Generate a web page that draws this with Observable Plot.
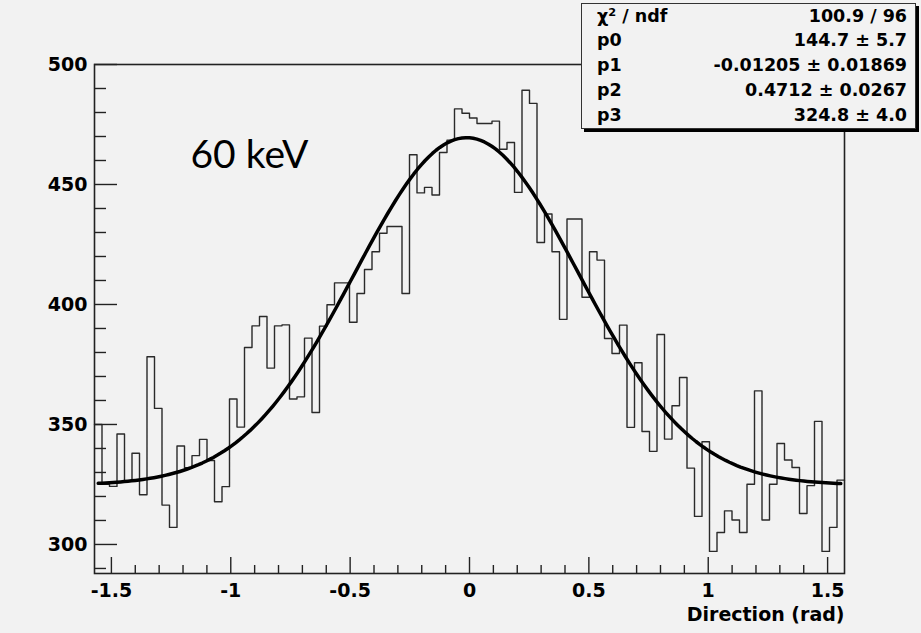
<!DOCTYPE html>
<html>
<head>
<meta charset="utf-8">
<script src="https://cdn.jsdelivr.net/npm/d3@7"></script>
<script src="https://cdn.jsdelivr.net/npm/@observablehq/plot@0.6"></script>
<style>
  html, body { margin: 0; padding: 0; background: #f2f2f2; }
  #wrap { position: relative; width: 921px; height: 633px; overflow: hidden; background: #f2f2f2; }
  #stats {
    position: absolute; left: 581px; top: 3px; width: 333px; height: 124px;
    background: #f2f2f2; border: 1.5px solid #333; box-shadow: 3px 3px 0 #000;
    font-family: "DejaVu Sans", sans-serif; font-weight: bold; font-size: 17.5px; color: #000;
    box-sizing: content-box;
  }
  #stats .row { display: flex; justify-content: space-between; align-items: center;
    height: 24.8px; padding: 0 8px 0 15px; line-height: 1; }
  #stats sup { font-size: 0.65em; vertical-align: 0.55em; line-height: 0; }
</style>
</head>
<body>
<div id="wrap"></div>
<script>
// ---- data ----
const binCounts = [
  350, 325.1, 324.2, 346, 326.5, 338, 320.7, 378.2, 356.7, 316.4,
  307.1, 341, 332, 337, 343.8, 335, 317.8, 324.1, 360.6, 348.9,
  382.1, 391.1, 395, 373.5, 391.1, 391.5, 360.6, 361.5, 386, 355,
  391, 399.9, 409, 409, 392.6, 404.6, 414.6, 422, 429.7, 432.5,
  432.5, 404.6, 462.4, 446.5, 448.8, 445.6, 463.3, 468.5, 481.5, 479.7,
  477.7, 475.4, 475.4, 476.4, 464.7, 467.5, 446.7, 489.3, 483.8, 425.8,
  437.7, 422, 393.8, 435.6, 435.6, 403, 422, 418.5, 385.8, 379.6,
  391.4, 348.8, 375.7, 347.1, 338.8, 387.5, 343.9, 357.8, 369.6, 331.8,
  311.7, 342.8, 297.1, 305, 314, 310.2, 305, 325.1, 364, 310.2,
  325.1, 342.1, 335.2, 332.1, 312.9, 324.5, 351.3, 297.1, 307.1, 326.8
];
const xRange = [-Math.PI / 2, Math.PI / 2];
const yRange = [287.9, 500];

const xMajorTicks = [-1.5, -1, -0.5, 0, 0.5, 1, 1.5];
const xMinorTicks = [-1.4,-1.3,-1.2,-1.1,-0.9,-0.8,-0.7,-0.6,-0.4,-0.3,-0.2,-0.1,0.1,0.2,0.3,0.4,0.6,0.7,0.8,0.9,1.1,1.2,1.3,1.4];
const yMajorTicks = [300, 350, 400, 450, 500];
const yMinorTicks = [290, 310, 320, 330, 340, 360, 370, 380, 390, 410, 420, 430, 440, 460, 470, 480, 490];

const xTitle = "Direction (rad)";
const energyLabel = "60 keV";

const statNames = ["p0", "p1", "p2", "p3"];
const paramValues = ["144.7", "-0.01205", "0.4712", "324.8"];
const paramErrors = ["5.7", "0.01869", "0.0267", "4.0"];
const chi2 = "100.9", ndf = "96";

// ---- derived tables ----
const nBins = binCounts.length;
const binW = (xRange[1] - xRange[0]) / nBins;
const histPts = binCounts.map((c, i) => ({x: xRange[0] + i * binW, y: c}));
histPts.push({x: xRange[1], y: binCounts[nBins - 1]});

const [p0, p1, p2, p3] = paramValues.map(Number);
const fitFn = x => p0 * Math.exp(-0.5 * ((x - p1) / p2) ** 2) + p3;
const fitX0 = xRange[0] + binW / 2, fitX1 = xRange[1] - binW / 2;
const fitPts = d3.range(0, 201).map(i => {
  const x = fitX0 + (fitX1 - fitX0) * i / 200;
  return {x, y: fitFn(x)};
});

const tickFont = {fontFamily: "DejaVu Sans", fontWeight: "bold", fontSize: 19, fill: "#000"};
const fmt = d => String(d);

const chart = Plot.plot({
  width: 921,
  height: 633,
  marginLeft: 94,
  marginRight: 77,
  marginTop: 64,
  marginBottom: 60,
  style: {background: "transparent", overflow: "visible"},
  x: {domain: xRange},
  y: {domain: yRange},
  marks: [
    Plot.line(histPts, {x: "x", y: "y", curve: "step-after", stroke: "#2a2a2a", strokeWidth: 1.4}),
    Plot.line(fitPts, {x: "x", y: "y", stroke: "#000", strokeWidth: 3.5}),
    Plot.frame({stroke: "#222", strokeWidth: 1.6}),
    Plot.axisY(yMajorTicks, {tickSize: -23, text: null, stroke: "#222", strokeWidth: 1.4, label: null}),
    Plot.axisY(yMinorTicks, {tickSize: -12, text: null, stroke: "#222", strokeWidth: 1.4, label: null}),
    Plot.axisY(yMajorTicks, {tickSize: 0, tickPadding: 7, tickFormat: fmt, label: null, ...tickFont}),
    Plot.axisX(xMajorTicks, {tickSize: -16, text: null, stroke: "#222", strokeWidth: 1.4, label: null}),
    Plot.axisX(xMinorTicks, {tickSize: -8, text: null, stroke: "#222", strokeWidth: 1.4, label: null}),
    Plot.axisX(xMajorTicks, {tickSize: 0, tickPadding: 10, tickFormat: fmt, label: null, ...tickFont}),
    Plot.text([xTitle], {text: d => d, frameAnchor: "bottom-right", dy: 41, textAnchor: "end", lineAnchor: "middle", ...tickFont}),
    Plot.text([energyLabel], {text: d => d, frameAnchor: "top-left", dx: 96, dy: 91, textAnchor: "start", lineAnchor: "middle",
      fontFamily: "Lato", fontSize: 39, fill: "#000"})
  ]
});

const wrap = document.getElementById("wrap");
wrap.appendChild(chart);

// stats box
const stats = document.createElement("div");
stats.id = "stats";
const rows = [[`\u03c7<sup>2</sup> / ndf`, `${chi2} / ${ndf}`]]
  .concat(statNames.map((n, i) => [n, `${paramValues[i]} \u00b1 ${paramErrors[i]}`]));
stats.innerHTML = rows.map(([a, b]) => `<div class="row"><span>${a}</span><span>${b}</span></div>`).join("");
wrap.appendChild(stats);
</script>
</body>
</html>
